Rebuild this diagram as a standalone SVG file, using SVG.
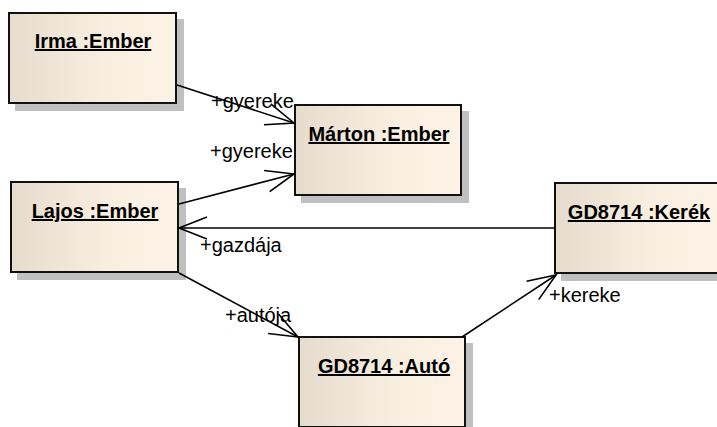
<svg xmlns="http://www.w3.org/2000/svg" width="717" height="427" viewBox="0 0 717 427">
  <style>
    .shadow { fill: #c0c0c0; }
    .box { fill: url(#objFill); stroke: #111; stroke-width: 2; }
    .name { font-family: "Liberation Sans", Arial, sans-serif; font-size: 20px; font-weight: bold; fill: #000; text-anchor: middle; text-decoration: underline; }
    .role { font-family: "Liberation Sans", Arial, sans-serif; font-size: 20px; fill: #000; }
    .link { fill: none; stroke: #000; stroke-width: 1.6; marker-end: url(#openArrow); }
  </style>
  <defs>
    <linearGradient id="objFill" x1="0" y1="0" x2="1" y2="0">
      <stop offset="0" stop-color="#e6dccd"/>
      <stop offset="0.55" stop-color="#f8eee0"/>
      <stop offset="1" stop-color="#fcf3e6"/>
    </linearGradient>
    <marker id="openArrow" markerUnits="userSpaceOnUse" markerWidth="40" markerHeight="40" refX="0" refY="0" viewBox="-32 -16 40 32" orient="auto" overflow="visible">
      <path d="M -28 -11 L 0 0 L -28 11" fill="none" stroke="#000" stroke-width="1.6"/>
    </marker>
  </defs>

  <rect width="717" height="427" fill="#fff"/>

  <g id="irma">
    <rect class="shadow" x="15" y="19" width="169" height="92"/>
    <rect class="box" x="9" y="13" width="167" height="90"/>
    <text class="name" x="93" y="48">Irma :Ember</text>
  </g>

  <g id="marton">
    <rect class="shadow" x="301" y="111" width="168" height="92"/>
    <rect class="box" x="295" y="105" width="166" height="90"/>
    <text class="name" x="379" y="141">Márton :Ember</text>
  </g>

  <g id="lajos">
    <rect class="shadow" x="17" y="188" width="169" height="92"/>
    <rect class="box" x="11" y="182" width="167" height="90"/>
    <text class="name" x="95" y="218">Lajos :Ember</text>
  </g>

  <g id="kerek">
    <rect class="shadow" x="561" y="189" width="168" height="92"/>
    <rect class="box" x="555" y="183" width="166" height="90"/>
    <text class="name" x="639" y="219">GD8714 :Kerék</text>
  </g>

  <g id="auto">
    <rect class="shadow" x="305" y="343" width="168" height="92"/>
    <rect class="box" x="299" y="337" width="166" height="90"/>
    <text class="name" x="384" y="373">GD8714 :Autó</text>
  </g>

  <g id="connectors">
    <line class="link" x1="177" y1="85" x2="294" y2="123"/>
    <line class="link" x1="179" y1="204" x2="294" y2="174"/>
    <line class="link" x1="554" y1="228" x2="179" y2="228"/>
    <line class="link" x1="179" y1="273" x2="298" y2="337"/>
    <line class="link" x1="462" y1="337" x2="556" y2="275"/>
    <text class="role" x="211" y="108">+gyereke</text>
    <text class="role" x="210" y="158">+gyereke</text>
    <text class="role" x="200" y="252">+gazdája</text>
    <text class="role" x="225" y="322">+autója</text>
    <text class="role" x="549" y="302">+kereke</text>
  </g>
</svg>
